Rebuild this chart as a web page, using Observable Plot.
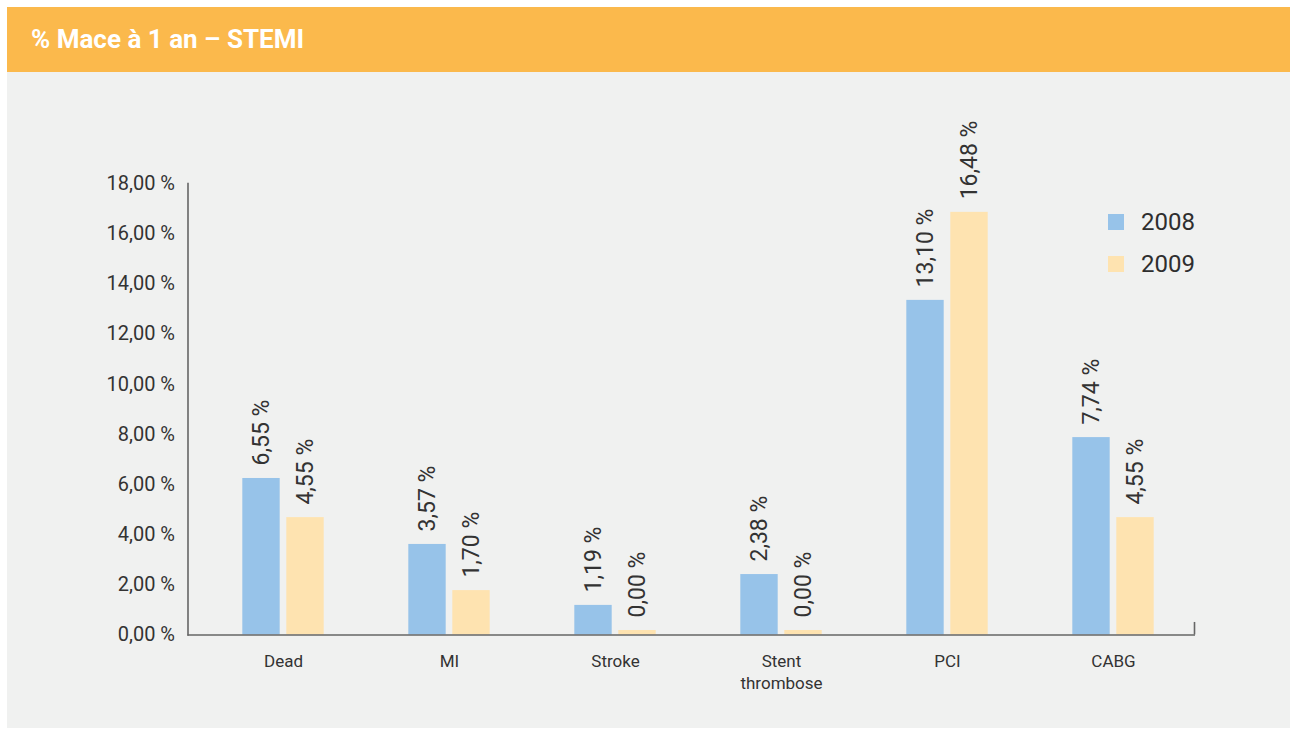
<!DOCTYPE html>
<html>
<head>
<meta charset="utf-8">
<script src="https://cdn.jsdelivr.net/npm/d3@7"></script>
<script src="https://cdn.jsdelivr.net/npm/@observablehq/plot@0.6"></script>
<style>
  html, body { margin: 0; padding: 0; background: #ffffff; }
  body { width: 1290px; height: 729px; position: relative; overflow: hidden; font-family: Roboto, "DejaVu Sans", sans-serif; }
  #panel { position: absolute; left: 7px; top: 7px; width: 1283px; height: 721px; background: #f0f1f0; }
  #header { height: 65px; background: #fbb94c; color: #ffffff; font-weight: 700; font-size: 26px; line-height: 65px; padding-left: 24px; box-sizing: border-box; }
  #chart { position: relative; }
  #legend { position: absolute; left: 1101px; top: 194px; color: #2e2e2e; font-size: 24px; }
  .item { display: flex; align-items: center; height: 42px; }
  .sw { width: 16px; height: 16px; margin-right: 17px; }
</style>
</head>
<body>
<div id="panel">
  <div id="header">% Mace à 1 an – STEMI</div>
  <div id="chart"></div>
  <div id="legend"></div>
</div>
<script>
// Categories (x axis)
const categories = ["Dead", "MI", "Stroke", "Stent\nthrombose", "PCI", "CABG"];
// Series
const years = ["2008", "2009"];
// Bar heights as drawn in the picture (percent)
const bars2008 = [6.24, 3.61, 1.18, 2.41, 13.34, 7.87];
const bars2009 = [4.68, 1.77, 0.18, 0.18, 16.85, 4.68];
// Printed value labels
const labels2008 = ["6,55 %", "3,57 %", "1,19 %", "2,38 %", "13,10 %", "7,74 %"];
const labels2009 = ["4,55 %", "1,70 %", "0,00 %", "0,00 %", "16,48 %", "4,55 %"];
// Y tick values
const yTicks = [0, 2, 4, 6, 8, 10, 12, 14, 16, 18];

const colors = {"2008": "#97c3e9", "2009": "#fee3b0"};

const d2008 = categories.map((c, i) => ({cat: c, value: bars2008[i], label: labels2008[i]}));
const d2009 = categories.map((c, i) => ({cat: c, value: bars2009[i], label: labels2009[i]}));

const fmt = d => d.toFixed(2).replace(".", ",") + " %";

const chart = Plot.plot({
  width: 1283,
  height: 656,
  marginLeft: 180.5,
  marginRight: 95,
  marginTop: 111,
  marginBottom: 93.5,
  style: {background: "transparent", color: "#333333", fontFamily: "Roboto, sans-serif"},
  x: {type: "band", domain: categories, range: [190.5, 1190.5], padding: 0},
  y: {domain: [0, 18]},
  marks: [
    Plot.barY(d2008, {x: "cat", y: "value", fill: colors["2008"], insetLeft: 42.3, insetRight: 86.3}),
    Plot.barY(d2009, {x: "cat", y: "value", fill: colors["2009"], insetLeft: 86.3, insetRight: 42.3}),
    Plot.text(d2008, {x: "cat", y: "value", text: "label", rotate: -90, textAnchor: "start", dx: -22, dy: -13, fontSize: 23, fill: "#333333"}),
    Plot.text(d2009, {x: "cat", y: "value", text: "label", rotate: -90, textAnchor: "start", dx: 22, dy: -13, fontSize: 23, fill: "#333333"}),
    Plot.axisY(yTicks, {tickSize: 0, tickPadding: 13, tickFormat: fmt, fontSize: 20, label: null}),
    Plot.axisX({tickSize: 0, tickPadding: 16, fontSize: 17, lineHeight: 1.3, label: null}),
    Plot.frame({anchor: "left", stroke: "#666666", strokeWidth: 1.6}),
    Plot.ruleY([0], {stroke: "#666666", strokeWidth: 1.6}),
    Plot.ruleX(["CABG"], {y1: 0, y2: 0.5, dx: 81, stroke: "#666666", strokeWidth: 1.6})
  ]
});
document.getElementById("chart").appendChild(chart);

const legend = document.getElementById("legend");
years.forEach(y => {
  const row = document.createElement("div");
  row.className = "item";
  const sw = document.createElement("div");
  sw.className = "sw";
  sw.style.background = colors[y];
  const t = document.createElement("span");
  t.textContent = y;
  row.appendChild(sw);
  row.appendChild(t);
  legend.appendChild(row);
});
</script>
</body>
</html>
